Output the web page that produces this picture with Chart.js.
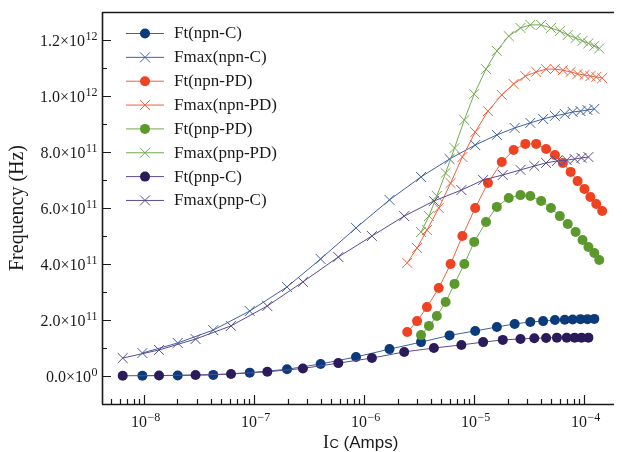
<!DOCTYPE html>
<html><head><meta charset="utf-8">
<script src="https://cdn.jsdelivr.net/npm/chart.js@4.4.1/dist/chart.umd.min.js"></script>
<style>html,body{margin:0;padding:0;background:#fff;overflow:hidden}canvas{display:block}</style>
</head><body>
<canvas id="c" width="622" height="452"></canvas>
<script>
// ---- Collector current (A) for each device ----
const icNpnC = [9.6e-9, 2.01e-8, 4.23e-8, 9.07e-8, 1.98e-7, 4.0e-7, 8.39e-7, 1.69e-6, 3.27e-6, 5.94e-6, 1.016e-5, 1.60e-5, 2.32e-5, 3.22e-5, 4.21e-5, 5.39e-5, 6.62e-5, 7.81e-5, 9.21e-5, 1.064e-4, 1.229e-4];
const icPnpC = [6.36e-9, 1.36e-8, 2.92e-8, 6.13e-8, 1.31e-7, 2.76e-7, 5.79e-7, 1.17e-6, 2.30e-6, 4.28e-6, 7.61e-6, 1.20e-5, 1.81e-5, 2.62e-5, 3.50e-5, 4.48e-5, 5.62e-5, 6.90e-5, 8.14e-5, 9.40e-5, 1.086e-4];
const icNpnPD = [2.45e-6, 3.01e-6, 3.70e-6, 4.74e-6, 6.07e-6, 7.77e-6, 1.016e-5, 1.327e-5, 1.772e-5, 2.27e-5, 2.90e-5, 3.64e-5, 4.48e-5, 5.39e-5, 6.36e-5, 7.49e-5, 8.66e-5, 1.0e-4, 1.132e-4, 1.28e-4, 1.449e-4];
const icPnpPD = [3.27e-6, 3.86e-6, 4.55e-6, 5.47e-6, 6.59e-6, 8.09e-6, 9.95e-6, 1.274e-5, 1.598e-5, 2.05e-5, 2.62e-5, 3.22e-5, 4.04e-5, 4.96e-5, 5.97e-5, 7.05e-5, 8.31e-5, 9.60e-5, 1.086e-4, 1.229e-4, 1.362e-4];

// ---- Frequencies (Hz) ----
const ftNpnC = [0.01e11, 0.02e11, 0.04e11, 0.12e11, 0.24e11, 0.43e11, 0.68e11, 0.96e11, 1.21e11, 1.45e11, 1.61e11, 1.75e11, 1.86e11, 1.93e11, 1.96e11, 2.0e11, 2.01e11, 2.02e11, 2.03e11, 2.03e11, 2.04e11];
const fmaxNpnC = [0.82e11, 1.18e11, 1.64e11, 2.32e11, 3.18e11, 4.18e11, 5.29e11, 6.29e11, 7.11e11, 7.75e11, 8.25e11, 8.61e11, 8.86e11, 9.04e11, 9.18e11, 9.29e11, 9.36e11, 9.43e11, 9.46e11, 9.5e11, 9.54e11];
const ftNpnPD = [1.57e11, 1.96e11, 2.46e11, 3.14e11, 4.0e11, 5.0e11, 6.0e11, 6.89e11, 7.64e11, 8.07e11, 8.29e11, 8.29e11, 8.11e11, 7.89e11, 7.61e11, 7.29e11, 6.96e11, 6.68e11, 6.39e11, 6.14e11, 5.89e11];
const fmaxNpnPD = [4.04e11, 4.57e11, 5.21e11, 6.0e11, 6.89e11, 7.82e11, 8.71e11, 9.46e11, 10.04e11, 10.43e11, 10.71e11, 10.86e11, 10.96e11, 10.96e11, 10.92e11, 10.86e11, 10.79e11, 10.75e11, 10.71e11, 10.68e11, 10.64e11];
const ftPnpPD = [1.46e11, 1.79e11, 2.14e11, 2.64e11, 3.29e11, 4.0e11, 4.79e11, 5.5e11, 6.04e11, 6.36e11, 6.46e11, 6.43e11, 6.25e11, 6.0e11, 5.71e11, 5.43e11, 5.14e11, 4.86e11, 4.61e11, 4.39e11, 4.14e11];
const fmaxPnpPD = [5.14e11, 5.71e11, 6.43e11, 7.25e11, 8.14e11, 9.14e11, 10.07e11, 10.96e11, 11.61e11, 12.14e11, 12.43e11, 12.54e11, 12.54e11, 12.43e11, 12.32e11, 12.18e11, 12.07e11, 11.97e11, 11.88e11, 11.79e11, 11.7e11];
const ftPnpC = [0.008e11, 0.016e11, 0.035e11, 0.07e11, 0.15e11, 0.27e11, 0.46e11, 0.64e11, 0.86e11, 1.0e11, 1.11e11, 1.21e11, 1.29e11, 1.32e11, 1.35e11, 1.36e11, 1.37e11, 1.37e11, 1.37e11, 1.37e11, 1.37e11];
const fmaxPnpC = [0.64e11, 0.93e11, 1.32e11, 1.79e11, 2.5e11, 3.36e11, 4.25e11, 5.0e11, 5.71e11, 6.25e11, 6.64e11, 7.0e11, 7.18e11, 7.36e11, 7.5e11, 7.61e11, 7.68e11, 7.71e11, 7.75e11, 7.79e11, 7.82e11];

const seriesLabels = ['Ft(npn-C)', 'Fmax(npn-C)', 'Ft(npn-PD)', 'Fmax(npn-PD)', 'Ft(pnp-PD)', 'Fmax(pnp-PD)', 'Ft(pnp-C)', 'Fmax(pnp-C)'];

// ---- Tick labels ----
const xTickValues = [1e-8, 1e-7, 1e-6, 1e-5, 1e-4];
const xTickExponents = ['\u22128', '\u22127', '\u22126', '\u22125', '\u22124'];
const yTickValues = [0, 2e11, 4e11, 6e11, 8e11, 1.0e12, 1.2e12];
const yTickMantissas = ['0.0', '2.0', '4.0', '6.0', '8.0', '1.0', '1.2'];
const yTickExponents = ['0', '11', '11', '11', '11', '12', '12'];

const SERIF = '"Liberation Serif","Times New Roman",serif';
const SANS = '"Liberation Sans",Arial,sans-serif';

const styles = [
  {line: '#3f62a0', fill: '#0b3b7b', marker: 'circle'},
  {line: '#3f62a0', fill: '#3f62a0', marker: 'crossRot'},
  {line: '#f0603f', fill: '#ee4221', marker: 'circle'},
  {line: '#f0603f', fill: '#f0603f', marker: 'crossRot'},
  {line: '#74aa50', fill: '#5b992c', marker: 'circle'},
  {line: '#74aa50', fill: '#74aa50', marker: 'crossRot'},
  {line: '#5b4b8e', fill: '#2c1b5b', marker: 'circle'},
  {line: '#5b4b8e', fill: '#5b4b8e', marker: 'crossRot'}
];
const xs = [icNpnC, icNpnC, icNpnPD, icNpnPD, icPnpPD, icPnpPD, icPnpC, icPnpC];
const ys = [ftNpnC, fmaxNpnC, ftNpnPD, fmaxNpnPD, ftPnpPD, fmaxPnpPD, ftPnpC, fmaxPnpC];

const datasets = seriesLabels.map((label, i) => {
  const s = styles[i];
  const isDot = s.marker === 'circle';
  return {
    label,
    data: xs[i].map((x, k) => ({x, y: ys[i][k]})),
    borderColor: s.line,
    borderWidth: 1,
    backgroundColor: s.fill,
    pointStyle: s.marker,
    pointRadius: isDot ? 5 : 7,
    pointHoverRadius: isDot ? 5 : 7,
    pointBackgroundColor: s.fill,
    pointBorderColor: isDot ? s.fill : s.line,
    pointBorderWidth: isDot ? 0 : 1,
    tension: 0,
    fill: false,
    order: 8 - i
  };
});

function drawMarker(ctx, style, x, y, isDot) {
  ctx.save();
  if (isDot) {
    ctx.fillStyle = style.fill;
    ctx.beginPath(); ctx.arc(x, y, 5, 0, Math.PI * 2); ctx.fill();
  } else {
    ctx.strokeStyle = style.line; ctx.lineWidth = 1;
    const d = 5;
    ctx.beginPath();
    ctx.moveTo(x - d, y - d); ctx.lineTo(x + d, y + d);
    ctx.moveTo(x - d, y + d); ctx.lineTo(x + d, y - d);
    ctx.stroke();
  }
  ctx.restore();
}

const axesPlugin = {
  id: 'axesDecor',
  afterDraw(chart) {
    const ctx = chart.ctx, a = chart.chartArea;
    const sx = chart.scales.x, sy = chart.scales.y;
    ctx.save();
    // spines
    ctx.strokeStyle = '#1a1a1a';
    ctx.lineWidth = 1.6;
    ctx.beginPath();
    ctx.moveTo(a.left, a.top + 0.5); ctx.lineTo(a.right, a.top + 0.5);
    ctx.moveTo(a.left + 0.5, a.top); ctx.lineTo(a.left + 0.5, a.bottom);
    ctx.moveTo(a.left, a.bottom + 0.5); ctx.lineTo(a.right, a.bottom + 0.5);
    ctx.stroke();

    // x ticks (inward)
    ctx.lineWidth = 1.2;
    ctx.beginPath();
    for (let e = -9; e <= -3; e++) {
      for (let m = 1; m < 10; m++) {
        const v = m * Math.pow(10, e);
        if (v < sx.min || v > sx.max) continue;
        const px = Math.round(sx.getPixelForValue(v)) + 0.5;
        const len = m === 1 ? 9 : 5;
        ctx.moveTo(px, a.bottom); ctx.lineTo(px, a.bottom - len);
      }
    }
    // y ticks (inward)
    for (let k = -1; k <= 13; k++) {
      const v = k * 1e11;
      if (v <= sy.min || v > sy.max) continue;
      const py = Math.round(sy.getPixelForValue(v)) + 0.5;
      const len = (k % 2 === 0) ? 9 : 5;
      ctx.moveTo(a.left, py); ctx.lineTo(a.left + len, py);
    }
    ctx.stroke();

    // y tick labels
    ctx.fillStyle = '#1a1a1a';
    ctx.textBaseline = 'alphabetic';
    ctx.textAlign = 'left';
    yTickValues.forEach((v, i) => {
      const py = sy.getPixelForValue(v);
      const main = yTickMantissas[i] + '\u00d710';
      ctx.font = '16px ' + SERIF;
      const w1 = ctx.measureText(main).width;
      ctx.font = '12px ' + SERIF;
      const w2 = ctx.measureText(yTickExponents[i]).width;
      const right = 97;
      const x0 = right - w2 - w1;
      ctx.font = '16px ' + SERIF;
      ctx.fillText(main, x0, py + 6);
      ctx.font = '12px ' + SERIF;
      ctx.fillText(yTickExponents[i], x0 + w1 + 0.5, py);
    });

    // x tick labels
    xTickValues.forEach((v, i) => {
      const px = sx.getPixelForValue(v);
      ctx.font = '16px ' + SERIF;
      const w1 = ctx.measureText('10').width;
      ctx.font = '12px ' + SERIF;
      const w2 = ctx.measureText(xTickExponents[i]).width;
      const x0 = px - (w1 + w2) / 2 + 1;
      ctx.font = '16px ' + SERIF;
      ctx.fillText('10', x0, 427);
      ctx.font = '12px ' + SERIF;
      ctx.fillText(xTickExponents[i], x0 + w1 + 0.5, 421);
    });

    // x title: Ic (Amps)
    let tx = 323;
    ctx.font = '18px ' + SERIF;
    ctx.fillText('I', tx, 448);
    tx += ctx.measureText('I').width + 0.5;
    ctx.font = '13px ' + SANS;
    ctx.fillText('C', tx, 448);
    tx += ctx.measureText('C').width;
    ctx.font = '17px ' + SANS;
    ctx.fillText(' (Amps)', tx, 448);

    // y title
    ctx.save();
    ctx.translate(18, 208);
    ctx.rotate(-Math.PI / 2);
    ctx.font = '20px ' + SERIF;
    ctx.textAlign = 'center';
    ctx.textBaseline = 'middle';
    ctx.fillText('Frequency (Hz)', 0, 0);
    ctx.restore();

    // legend
    seriesLabels.forEach((label, i) => {
      const y = 33 + i * 23.85;
      const s = styles[i];
      ctx.strokeStyle = s.line; ctx.lineWidth = 1;
      ctx.beginPath(); ctx.moveTo(126, y + 0.5); ctx.lineTo(164, y + 0.5); ctx.stroke();
      drawMarker(ctx, s, 145, y + 0.5, s.marker === 'circle');
      ctx.fillStyle = '#1a1a1a';
      ctx.font = '17px ' + SERIF;
      ctx.textAlign = 'left';
      ctx.textBaseline = 'middle';
      ctx.fillText(label, 174, y + 1);
    });
    ctx.restore();
  }
};

new Chart(document.getElementById('c'), {
  type: 'line',
  data: {datasets},
  options: {
    responsive: false,
    animation: false,
    devicePixelRatio: 1,
    layout: {padding: {left: 102, right: 0, top: 12, bottom: 48}},
    plugins: {legend: {display: false}, tooltip: {enabled: false}},
    scales: {
      x: {type: 'logarithmic', display: false, min: 4.122e-9, max: 1.855e-4},
      y: {type: 'linear', display: false, min: -1e11, max: 1.3e12}
    }
  },
  plugins: [axesPlugin]
});
</script>
</body></html>
